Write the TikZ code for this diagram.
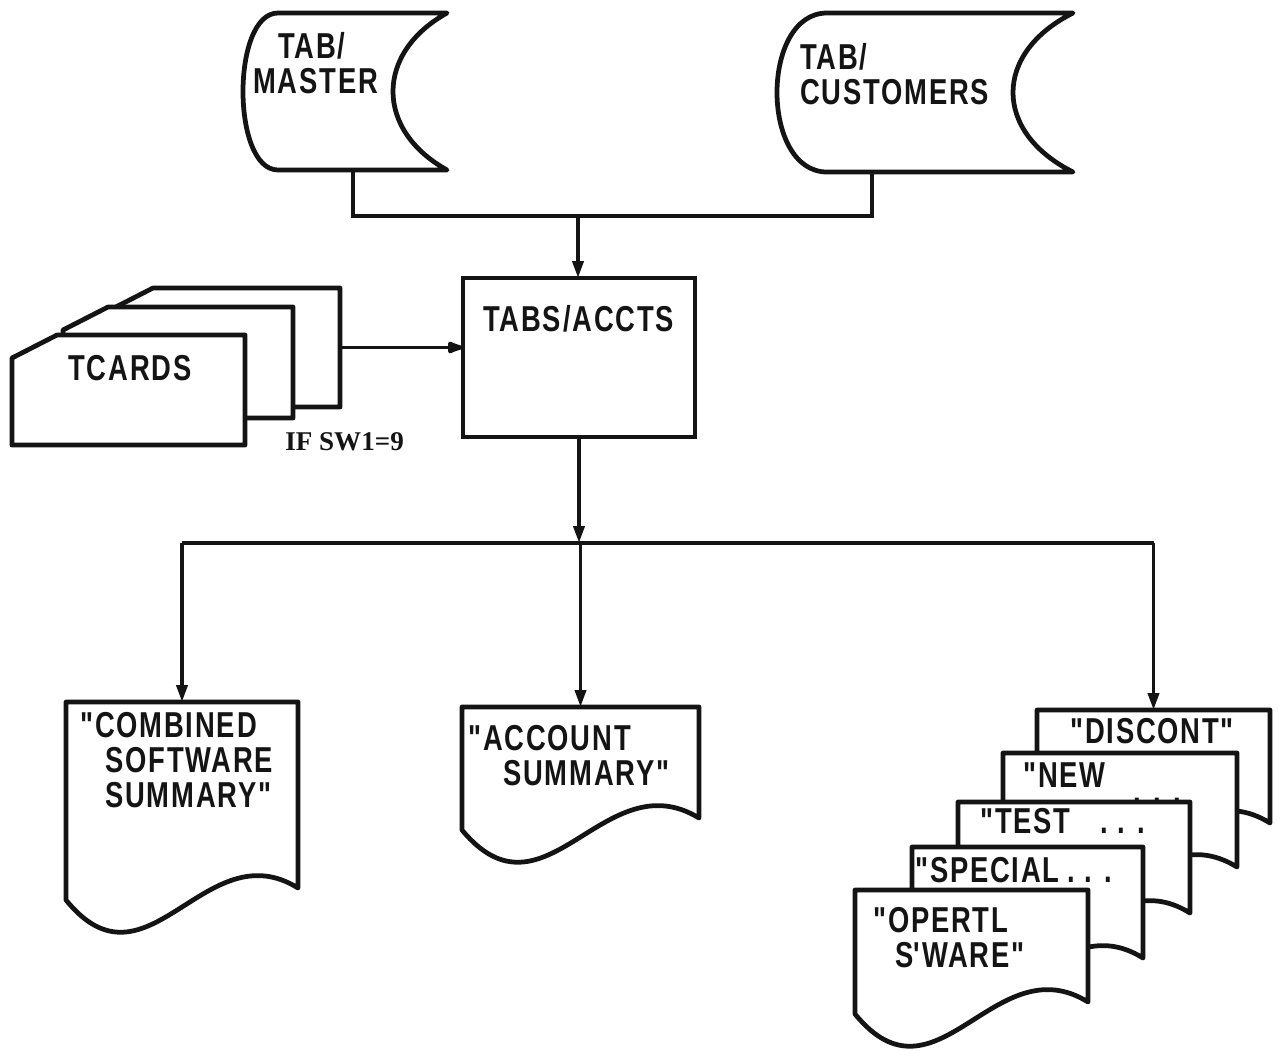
\documentclass[tikz,border=0pt]{standalone}
\usepackage{fontspec}
\usepackage{tikz}
\usetikzlibrary{
  arrows.meta,
  calc,
  fit
}
\newfontfamily\chartfont{Liberation Sans}[FakeStretch=0.76, LetterSpace=5]
\newfontfamily\notefont{Liberation Serif}
\definecolor{inkcolor}{RGB}{20, 20, 20}
\definecolor{papercolor}{RGB}{255, 255, 255}

% outlines drawn from the anchors of a named box
\newcommand{\storeoutline}[3]{%
  \draw[shapeline] ($(#1.north west)+(#2,0)$) -- (#1.north east)
    .. controls ($(#1.north east)+(-#3,40)$) and ($(#1.south east)+(-#3,-40)$) .. (#1.south east)
    -- ($(#1.south west)+(#2,0)$)
    .. controls ($(#1.south west)+(-#2/3,0)$) and ($(#1.north west)+(-#2/3,0)$) .. ($(#1.north west)+(#2,0)$)
    -- cycle;}
\newcommand{\docoutline}[1]{%
  \draw[shapeline] ($(#1.south east)+(0,-12)$) -- (#1.north east) -- (#1.north west) -- (#1.south west)
    .. controls ($(#1.south west)!0.35!(#1.south east)+(0,100)$) and ($(#1.south west)!0.6!(#1.south east)+(0,-70)$) .. ($(#1.south east)+(0,-12)$)
    -- cycle;}
\newcommand{\cardoutline}[1]{%
  \draw[shapeline] ($(#1.north west)+(0,23)$) -- ($(#1.north west)+(45,0)$) -- (#1.north east)
    -- (#1.south east) -- (#1.south west) -- cycle;}

\begin{document}
\begin{tikzpicture}[
    x=0.2mm, y=-0.2mm,
    % Estilos
    shapebox/.style={inner sep=0pt, outer sep=0pt, draw=none},
    shapeline/.style={draw=inkcolor, line width=0.95mm, fill=papercolor, line join=round},
    flowline/.style={draw=inkcolor, line width=0.75mm},
    flowarrow/.style={flowline, -{Triangle[length=3.4mm, width=2.2mm]}},
    cardarrow/.style={flowline, -{Latex[length=4.4mm, width=2.8mm, round]}},
    chartlabel/.style={font=\chartfont\bfseries\fontsize{20.5}{20}\selectfont, text=inkcolor,
        align=left, anchor=north west, inner sep=0pt},
    notelabel/.style={font=\notefont\bfseries\fontsize{15.4}{18}\selectfont, text=inkcolor,
        anchor=base west, inner sep=0pt}
]
\path[fill=papercolor] (0,0) rectangle (1280,1050);
\useasboundingbox (0,0) rectangle (1280,1050);

% ============================================================================
% ARQUIVOS DE ENTRADA
% ============================================================================
\node[shapebox, fit={(243,13) (447,170)}] (master) {};
\node[shapebox, fit={(777,13) (1073,172)}] (cust) {};
\storeoutline{master}{35}{72}
\storeoutline{cust}{50}{80}
\node[chartlabel] (mastertext) at (253,32) {\hspace*{5mm}TAB/\\MASTER};
\node[chartlabel] (custtext) at (800,43) {TAB/\\CUSTOMERS};

% ============================================================================
% PROGRAMA
% ============================================================================
\node[shapebox, draw=inkcolor, line width=0.95mm, fit={(463,278) (695,437)}] (tabs) {};
\node[chartlabel] (tabstext) at (483,305) {TABS/ACCTS};

\coordinate (mastertap) at (353,170);
\coordinate (custtap) at (872,172);
\coordinate (merge) at (578,216);
\draw[flowline] (mastertap) |- (merge) -| (custtap);
\draw[flowarrow] (merge) -- (merge |- tabs.north);

% Cartoes
\node[shapebox, fit={(108,288) (340,407)}] (card3) {};
\node[shapebox, fit={(63,307) (293,418)}] (card2) {};
\node[shapebox, fit={(12,335) (245,445)}] (card1) {};
\cardoutline{card3}
\cardoutline{card2}
\cardoutline{card1}
\node[chartlabel] (cardtext) at (68,355) {TCARDS};
\node[notelabel] (switchnote) at (285,450) {IF SW1=9};
\draw[cardarrow] (card3.east) -- (card3.east -| tabs.west);

% ============================================================================
% RELATORIOS
% ============================================================================
\node[shapebox, fit={(66,702) (298,900)}] (comb) {};
\node[shapebox, fit={(462,707) (699,830)}] (acct) {};
\node[shapebox, fit={(1037,710) (1270,835)}] (disc) {};
\node[shapebox, fit={(1003,753) (1237,879)}] (newdoc) {};
\node[shapebox, fit={(958,802) (1190,925)}] (testdoc) {};
\node[shapebox, fit={(912,847) (1143,970)}] (special) {};
\node[shapebox, fit={(855,890) (1088,1014)}] (opertl) {};

\coordinate (bus) at (578,543);
\draw[flowarrow] (tabs.south) -- (tabs.south |- bus);
\draw[flowline] (comb.north |- bus) -- (disc.north |- bus);
\draw[flowarrow] (comb.north |- bus) -- (comb.north);
\draw[flowarrow] (acct.north |- bus) -- (acct.north);
\draw[flowarrow] (disc.north |- bus) -- (disc.north);

\docoutline{comb}
\node[chartlabel] (combtext) at (80,712) {"COMBINED\\\hspace*{5mm}SOFTWARE\\\hspace*{5mm}SUMMARY"};
\docoutline{acct}
\node[chartlabel] (accttext) at (468,725) {"ACCOUNT\\\hspace*{7mm}SUMMARY"};

% pilha de relatorios
\docoutline{disc}
\node[chartlabel] (disctext) at (1070,718) {"DISCONT"};
\docoutline{newdoc}
\node[chartlabel] (newtext) at (1023,762) {"NEW\\[-3.8mm]\hspace*{22mm}. . .};
\docoutline{testdoc}
\node[chartlabel] (testtext) at (980,808) {"TEST\hspace{6mm}. . .};
\docoutline{special}
\node[chartlabel] (specialtext) at (915,857) {"SPECIAL\hspace{1.5mm}. . .};
\docoutline{opertl}
\node[chartlabel] (opertltext) at (873,907) {"OPERTL\\\hspace*{4.4mm}S\textquotesingle WARE"};

\end{tikzpicture}
\end{document}
